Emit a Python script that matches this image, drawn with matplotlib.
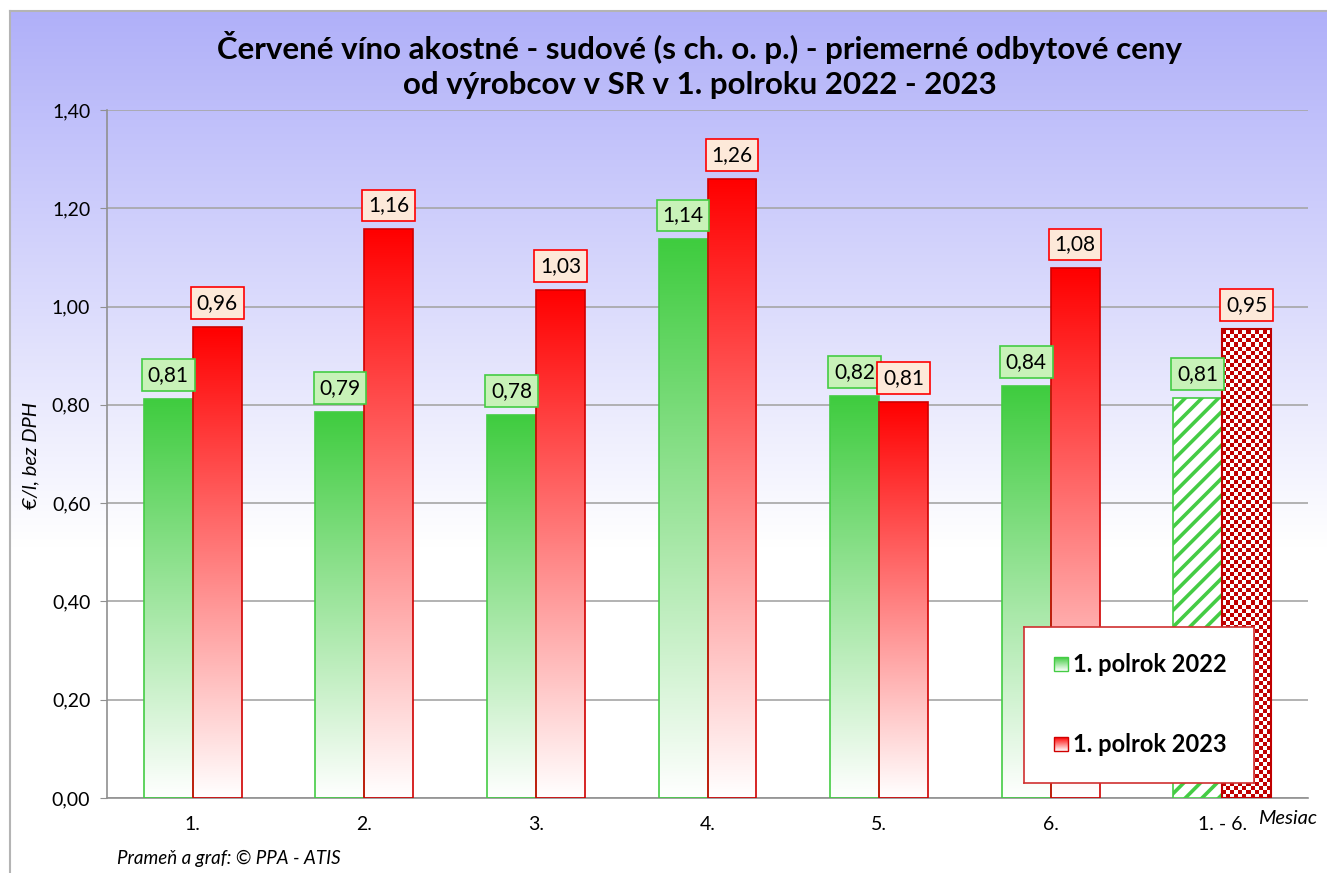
import numpy as np
import matplotlib
matplotlib.use("Agg")
import matplotlib.pyplot as plt
from matplotlib.patches import Rectangle
from matplotlib.colors import to_rgb

plt.rcParams["font.family"] = ["Lato", "DejaVu Sans"]
plt.rcParams["hatch.linewidth"] = 2.6

# ---- data ----
categories = ["1.", "2.", "3.", "4.", "5.", "6.", "1. - 6."]
ceny_2022 = [0.812, 0.786, 0.780, 1.137, 0.818, 0.838, 0.814]
ceny_2023 = [0.958, 1.157, 1.034, 1.260, 0.806, 1.078, 0.954]
series_names = ["1. polrok 2022", "1. polrok 2023"]

GREEN, GREEN_EDGE, GREEN_BOX = "#3fcc3f", "#44cc44", "#c8f2b8"
RED, RED_EDGE, RED_BOX = "#ff0000", "#d00000", "#fde9d9"
CHECK_RED = "#c00000"

W, H = 1327, 873
fig = plt.figure(figsize=(W / 100, H / 100), dpi=100)

# ---- background with gradient ----
bg = fig.add_axes([10 / W, 0, 1 - 10 / W, (H - 11) / H], zorder=-10)
top_c = np.array(to_rgb("#b0b0f9"))
t = np.linspace(0, 1, 400)
fade = np.clip(t / 0.62, 0, 1)[:, None]
grad = top_c * (1 - fade) + np.ones(3) * fade
bg.imshow(grad[:, None, :], aspect="auto", extent=[0, 1, 1, 0])
bg.set_xlim(0, 1)
bg.set_ylim(1, 0)
bg.set_xticks([])
bg.set_yticks([])
for s in ["right", "bottom"]:
    bg.spines[s].set_visible(False)
for s in ["left", "top"]:
    bg.spines[s].set_color("#b4b4b4")
    bg.spines[s].set_linewidth(1.5)


def gradient_bar(ax, x0, w, h, color, edge):
    n = 200
    frac = np.linspace(0, 1, n)[:, None]  # bottom -> top
    c = np.array(to_rgb(color))
    img = np.ones(3) * (1 - frac) + c * frac
    im = ax.imshow(img[:, None, :], origin="lower", aspect="auto",
                   extent=[x0, x0 + w, 0, h], zorder=2, interpolation="bilinear")
    rect = Rectangle((x0, 0), w, h, facecolor="none", edgecolor=edge, lw=1.2, zorder=3)
    ax.add_patch(rect)
    im.set_clip_path(rect)


def checker_bar(ax, x0, w, h, color, edge):
    nx = 12
    cell_y = 0.0082
    ny = int(np.ceil(h / cell_y))
    ii, jj = np.meshgrid(np.arange(nx), np.arange(ny))
    mask = (ii + jj) % 2
    c = np.array(to_rgb(color))
    img = np.where(mask[:, :, None] == 1, c, np.ones(3))
    im = ax.imshow(img, origin="lower", aspect="auto", interpolation="nearest",
                   extent=[x0, x0 + w, 0, ny * cell_y], zorder=2)
    rect = Rectangle((x0, 0), w, h, facecolor="none", edgecolor=edge, lw=1.5, zorder=3)
    ax.add_patch(rect)
    im.set_clip_path(rect)


# ---- main axes ----
ax = fig.add_axes([107 / W, (H - 798) / H, (1308 - 107) / W, (798 - 110) / H])
ax.patch.set_alpha(0)
bw = 0.285
x = np.arange(len(categories))

for i, (g, r) in enumerate(zip(ceny_2022, ceny_2023)):
    if i < len(categories) - 1:
        gradient_bar(ax, i - bw, bw, g, GREEN, GREEN_EDGE)
        gradient_bar(ax, i, bw, r, RED, RED_EDGE)
    else:
        ax.bar(i - bw, g, width=bw, align="edge", facecolor="white",
               edgecolor=GREEN_EDGE, hatch="//", lw=1.2, zorder=3)
        checker_bar(ax, i, bw, r, CHECK_RED, CHECK_RED)

    for xc, v, fc, ec in [(i - bw / 2, g, GREEN_BOX, GREEN_EDGE),
                          (i + bw / 2, r, RED_BOX, RED)]:
        ax.annotate(f"{v:.2f}".replace(".", ","), xy=(xc, v), xytext=(0, 10),
                    textcoords="offset points", ha="center", va="bottom",
                    fontsize=15, zorder=5,
                    bbox=dict(boxstyle="square,pad=0.28", facecolor=fc,
                              edgecolor=ec, lw=1.2))

ax.set_xlim(-0.5, len(categories) - 0.5)
ax.set_ylim(0, 1.4)
ax.set_yticks(np.arange(0, 1.41, 0.2))
ax.set_yticklabels([f"{v:.2f}".replace(".", ",") for v in np.arange(0, 1.41, 0.2)])
ax.set_xticks(x)
ax.set_xticklabels(categories)
ax.tick_params(axis="y", length=5, color="#909090", pad=7, labelsize=14)
ax.tick_params(axis="x", length=0, pad=13, labelsize=14)
ax.grid(axis="y", color="#a6a6a6", lw=1.2, zorder=0)
ax.set_axisbelow(True)
for s in ["top", "right"]:
    ax.spines[s].set_visible(False)
for s in ["left", "bottom"]:
    ax.spines[s].set_color("#909090")
    ax.spines[s].set_linewidth(1.2)

# ---- legend (drawn as its own small box) ----
lg = fig.add_axes([1024 / W, (H - 783) / H, 230 / W, 156 / H], zorder=10)
lg.set_xticks([])
lg.set_yticks([])
lg.set_facecolor("white")
for s in lg.spines.values():
    s.set_color("#d03030")
    s.set_linewidth(1.2)
for name, col, edge, yc in [(series_names[0], GREEN, GREEN_EDGE, 37),
                            (series_names[1], RED, RED_EDGE, 117)]:
    frac = np.linspace(0, 1, 50)[:, None]
    c = np.array(to_rgb(col))
    img = c * (1 - frac) + np.ones(3) * frac
    lg.imshow(img[:, None, :], aspect="auto", extent=[30, 44, yc + 7, yc - 7])
    lg.add_patch(Rectangle((30, yc - 7), 14, 14, facecolor="none", edgecolor=edge, lw=1))
    lg.text(49, yc, name, fontsize=17, fontweight="bold", va="center", ha="left")
lg.set_xlim(0, 230)
lg.set_ylim(156, 0)

# ---- texts ----
fig.text(0.5275, 1 - 47 / H,
         "Červené víno akostné - sudové (s ch. o. p.) - priemerné odbytové ceny",
         ha="center", va="center", fontsize=22.5, fontweight="bold")
fig.text(0.5275, 1 - 85 / H, "od výrobcov v SR v 1. polroku 2022 - 2023",
         ha="center", va="center", fontsize=22.5, fontweight="bold")
fig.text(31 / W, 1 - 455 / H, "€/l, bez DPH", rotation=90, ha="center",
         va="center", fontsize=14.5, style="italic")
fig.text(1258 / W, 1 - 818 / H, "Mesiac", ha="left", va="center",
         fontsize=14.5, style="italic")
fig.text(117 / W, 1 - 858 / H, "Prameň a graf: © PPA - ATIS", ha="left",
         va="center", fontsize=13.5, style="italic")

fig.savefig("out.png", dpi=100)
